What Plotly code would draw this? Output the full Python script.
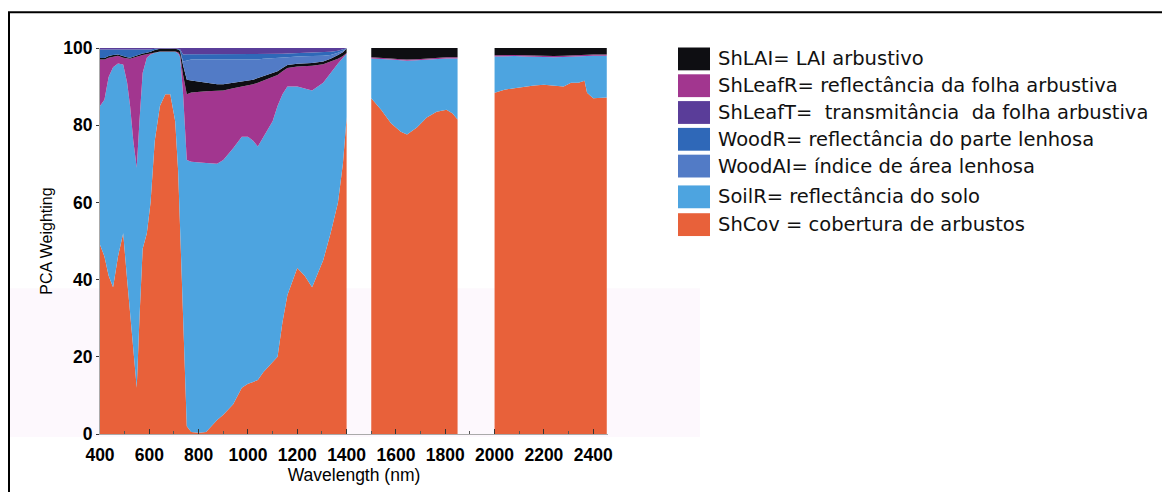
import plotly.graph_objects as go

# ---------------------------------------------------------------------------
# PCA weighting of the canopy parameters along the spectrum (stacked shares, %)
# Three spectral windows; the water-absorption bands are left out.
# ---------------------------------------------------------------------------

# Window 1: 400-1400 nm
wavelength_b1 = [400, 418, 435, 453, 473, 494, 510, 522, 535, 549, 560, 573, 590, 605,
                 622, 643, 665, 685, 705, 717, 725, 737, 752, 770, 800, 830, 875, 900,
                 940, 975, 1000, 1021, 1040, 1062, 1100, 1120, 1140, 1160, 1200, 1230,
                 1260, 1305, 1335, 1365, 1385, 1400]
shcov_b1 = [49, 46, 41, 38, 46, 52, 40, 32, 22, 12, 30, 48, 52, 60,
            76, 85, 88, 88, 81, 68, 53, 28, 2, 0.5, 0.3, 0.5, 3.6, 5,
            7.7, 12, 13, 13.5, 14, 16, 18.5, 20, 29, 36, 43, 41,
            38, 45, 52, 60, 70, 82]
soilr_b1 = [36, 40.6, 51.5, 57, 50, 43.7, 51, 53, 54, 57, 51, 45.5, 45.5, 38.3,
            22.8, 14, 11, 11, 18, 30.6, 44.7, 60, 69, 70, 70, 69.7, 66.4, 66,
            66.3, 65, 64, 62.5, 60.5, 61, 62.5, 65, 59, 54, 47, 48.5,
            51, 46, 41.6, 36, 27.5, 16.5]
shleafr_b1 = [12, 10.4, 5, 2.8, 2, 1.8, 6.3, 12.2, 21.5, 28.8, 17, 4.7, 0.9, 0.3,
              0.2, 0.1, 0.1, 0.1, 0.1, 0.3, 0.5, 5, 17, 18, 18.4, 18.6, 18.9, 18,
              15.6, 13, 13.3, 14.6, 16.5, 14.5, 11.5, 8, 6, 4.8, 5.2, 5.8,
              6.4, 4.8, 2.8, 1.2, 0.4, 0.2]
shlai_b1 = [0.4, 0.4, 0.4, 0.4, 0.3, 0.3, 0.3, 0.3, 0.3, 0.3, 0.4, 0.4, 0.4, 0.4,
            0.5, 0.7, 0.7, 0.7, 0.7, 0.7, 1, 2.5, 3.8, 3.1, 2.6, 2.2, 1.7, 1.6,
            1.4, 1.3, 1.2, 1.2, 1.2, 1.2, 1, 1, 0.8, 0.8, 0.7, 0.7,
            0.7, 0.7, 0.8, 1, 1, 1.2]
woodai_b1 = [0, 0, 0, 0, 0, 0, 0, 0, 0, 0, 0, 0, 0, 0,
             0, 0, 0, 0, 0, 0, 0, 1, 5, 5.4, 5.7, 6, 6.4, 6.4,
             6, 5.7, 5.5, 5.2, 4.8, 4.5, 3.8, 3.4, 2.7, 2, 1.9, 1.8,
             1.8, 1.5, 1, 0.6, 0.4, 0]
woodr_b1 = [2.2, 2.2, 1.7, 1.4, 1.3, 1.8, 2, 2.1, 1.8, 1.5, 1.2, 1, 0.8, 0.6,
            0.3, 0.1, 0.1, 0.1, 0.1, 0.2, 0.4, 1.8, 1.6, 1.4, 1.4, 1.4, 1.4, 1.4,
            1.4, 1.4, 1.4, 1.4, 1.4, 1.3, 1.2, 1.1, 1, 1, 0.9, 0.9,
            0.9, 0.9, 0.8, 0.5, 0.3, 0.05]
shleaft_b1 = [0.4, 0.4, 0.4, 0.4, 0.4, 0.4, 0.4, 0.4, 0.4, 0.4, 0.4, 0.4, 0.4, 0.4,
              0.2, 0.1, 0.1, 0.1, 0.1, 0.2, 0.4, 1.7, 1.6, 1.6, 1.6, 1.6, 1.6, 1.6,
              1.6, 1.6, 1.6, 1.6, 1.6, 1.5, 1.5, 1.5, 1.5, 1.4, 1.3, 1.3,
              1.2, 1.1, 1, 0.7, 0.4, 0.05]

# Window 2: 1500-1850 nm
wavelength_b2 = [1500, 1540, 1580, 1620, 1645, 1685, 1725, 1765, 1805, 1830, 1850]
shcov_b2 = [87, 84, 80.5, 78.3, 77.6, 79.4, 82, 83.5, 84, 83, 81.5]
soilr_b2 = [10.3, 13.2, 16.5, 18.5, 19.1, 17.4, 15, 13.7, 13.3, 14.3, 15.8]
shleafr_b2 = [0.3, 0.3, 0.3, 0.3, 0.3, 0.3, 0.3, 0.3, 0.3, 0.3, 0.3]
shlai_b2 = [2.4, 2.5, 2.7, 2.9, 3.0, 2.9, 2.7, 2.5, 2.4, 2.4, 2.4]

# Window 3: 2000-2455 nm
wavelength_b3 = [2000, 2040, 2080, 2120, 2160, 2200, 2240, 2280, 2310, 2340, 2365,
                 2375, 2400, 2455]
shcov_b3 = [88.4, 89.2, 89.6, 90, 90.3, 90.5, 90.2, 90, 91, 91, 91.5, 88.4, 87, 87.2]
soilr_b3 = [9.4, 8.7, 8.3, 7.8, 7.4, 7.1, 7.4, 7.7, 6.8, 6.9, 6.4, 9.5, 11, 10.8]
shleafr_b3 = [0.3, 0.3, 0.3, 0.3, 0.3, 0.3, 0.3, 0.3, 0.3, 0.3, 0.3, 0.3, 0.3, 0.3]
shlai_b3 = [1.9, 1.8, 1.8, 1.9, 2.0, 2.1, 2.1, 2.0, 1.9, 1.8, 1.8, 1.8, 1.7, 1.7]

# Parameter names, colours and legend descriptions (legend order, top to bottom)
param_keys = ["ShLAI", "ShLeafR", "ShLeafT", "WoodR", "WoodAI", "SoilR", "ShCov"]
param_colors = {
    "ShLAI": "#0e0e12",
    "ShLeafR": "#a2368f",
    "ShLeafT": "#5a3d99",
    "WoodR": "#2f68b8",
    "WoodAI": "#527bc6",
    "SoilR": "#4da4e0",
    "ShCov": "#e8613a",
}
param_labels = [
    "ShLAI= LAI arbustivo",
    "ShLeafR= reflectância da folha arbustiva",
    "ShLeafT=\u00a0 transmitância\u00a0 da folha arbustiva",
    "WoodR= reflectância do parte lenhosa",
    "WoodAI= índice de área lenhosa",
    "SoilR= reflectância do solo",
    "ShCov = cobertura de arbustos",
]

y_ticks = [0, 20, 40, 60, 80, 100]
x_ticks = [400, 600, 800, 1000, 1200, 1400, 1600, 1800, 2000, 2200, 2400]

# ---------------------------------------------------------------------------
W_PX, H_PX = 1162, 492
M_L, M_R, M_T, M_B = 100, 554, 48, 55
PLOT_W = W_PX - M_L - M_R
PLOT_H = H_PX - M_T - M_B


def px_x(p):
    return (p - M_L) / PLOT_W


def px_y(p):
    return (H_PX - M_B - p) / PLOT_H


# stacking order, bottom to top
windows = [
    (wavelength_b1, [("ShCov", shcov_b1), ("SoilR", soilr_b1), ("ShLeafR", shleafr_b1),
                     ("ShLAI", shlai_b1), ("WoodAI", woodai_b1), ("WoodR", woodr_b1),
                     ("ShLeafT", shleaft_b1)]),
    (wavelength_b2, [("ShCov", shcov_b2), ("SoilR", soilr_b2), ("ShLeafR", shleafr_b2),
                     ("ShLAI", shlai_b2)]),
    (wavelength_b3, [("ShCov", shcov_b3), ("SoilR", soilr_b3), ("ShLeafR", shleafr_b3),
                     ("ShLAI", shlai_b3)]),
]

fig = go.Figure()
for i, (wl, layers) in enumerate(windows):
    for key, vals in layers:
        fig.add_trace(go.Scatter(
            x=wl, y=vals, name=key, stackgroup=f"w{i}", mode="lines",
            line=dict(width=0, color=param_colors[key]),
            fillcolor=param_colors[key], showlegend=False,
            hovertemplate=key + ": %{y:.1f}<extra></extra>",
        ))

shapes = []
# faint tint in the lower half of the figure
shapes.append(dict(type="rect", xref="paper", yref="paper", layer="below",
                   x0=px_x(10), x1=px_x(700), y0=px_y(440), y1=px_y(290),
                   fillcolor="#fdf8fd", line=dict(width=0)))
# outer frame (left and top edges)
shapes.append(dict(type="line", xref="paper", yref="paper",
                   x0=px_x(9), x1=px_x(9), y0=px_y(500), y1=px_y(12),
                   line=dict(color="black", width=2)))
shapes.append(dict(type="line", xref="paper", yref="paper",
                   x0=px_x(8), x1=px_x(1170), y0=px_y(12), y1=px_y(12),
                   line=dict(color="black", width=2)))

# legend: colour swatches with descriptions
annotations = []
row_centers = [59, 86, 113, 140, 167, 198, 226]
for key, label, yc in zip(param_keys, param_labels, row_centers):
    shapes.append(dict(type="rect", xref="paper", yref="paper",
                       x0=px_x(678), x1=px_x(710), y0=px_y(yc + 11.5), y1=px_y(yc - 11.5),
                       fillcolor=param_colors[key], line=dict(width=0)))
    annotations.append(dict(xref="paper", yref="paper", x=px_x(716), y=px_y(yc),
                            xanchor="left", yanchor="middle", showarrow=False,
                            text=label,
                            font=dict(family="DejaVu Sans", size=19.5, color="#111")))

fig.update_layout(
    width=W_PX, height=H_PX,
    margin=dict(l=M_L, r=M_R, t=M_T, b=M_B, pad=0),
    paper_bgcolor="white", plot_bgcolor="rgba(0,0,0,0)",
    showlegend=False,
    shapes=shapes, annotations=annotations,
    xaxis=dict(
        range=[400, 2460], tickvals=x_ticks, ticktext=[str(v) for v in x_ticks],
        ticks="inside", ticklen=5, tickwidth=1, tickcolor="#333",
        minor=dict(dtick=100, tick0=400, ticks="inside", ticklen=3, tickcolor="#555"),
        showline=True, linecolor="#aaa", linewidth=1,
        showgrid=False, zeroline=False,
        tickfont=dict(family="Arial, Liberation Sans", size=17.5, color="black",
                      weight="bold"),
        ticklabelstandoff=5,
        title=dict(text="Wavelength (nm)", standoff=3,
                   font=dict(family="Arial, Liberation Sans", size=17.5, color="black")),
    ),
    yaxis=dict(
        range=[0, 100], tickvals=y_ticks,
        ticks="outside", ticklen=3, tickcolor="#333",
        showline=True, linecolor="#aaa", linewidth=1,
        showgrid=False, zeroline=False,
        tickfont=dict(family="Arial, Liberation Sans", size=17.5, color="black",
                      weight="bold"),
        title=dict(text="PCA Weighting", standoff=6,
                   font=dict(family="Arial, Liberation Sans", size=16, color="black")),
    ),
)

fig.write_html("out.html")
